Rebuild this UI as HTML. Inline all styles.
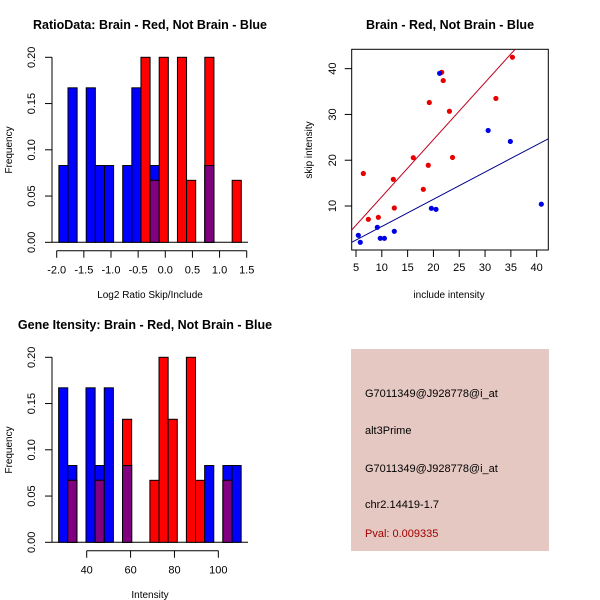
<!DOCTYPE html>
<html><head><meta charset="utf-8"><style>
body{margin:0;background:#fff}
svg{display:block;font-family:"Liberation Sans",Arial,sans-serif}
</style></head><body>
<svg id="c" width="600" height="600" viewBox="0 0 600 600" xmlns="http://www.w3.org/2000/svg">
<rect width="600" height="600" fill="#fff"/>
<text x="150" y="29" text-anchor="middle" font-size="12.5" font-weight="bold">RatioData: Brain - Red, Not Brain - Blue</text>
<text x="450" y="29" text-anchor="middle" font-size="12.5" font-weight="bold">Brain - Red, Not Brain - Blue</text>
<text x="145" y="329" text-anchor="middle" font-size="12.5" font-weight="bold">Gene Itensity: Brain - Red, Not Brain - Blue</text>
<g id="p1"></g>
<g id="p2"></g>
<g id="p3"></g>
<g>
<rect x="351" y="349" width="198" height="202" fill="#e6c8c2"/>
<g font-size="11">
<text x="365" y="397">G7011349@J928778@i_at</text>
<text x="365" y="434">alt3Prime</text>
<text x="365" y="472">G7011349@J928778@i_at</text>
<text x="365" y="508">chr2.14419-1.7</text>
<text x="365" y="537" fill="#a00000">Pval: 0.009335</text>
</g></g>
</svg>
<script>
// Histogram 1: ratio data (20 bins)
const ratioBinStart = -1.96;
const ratioBinWidth = 0.168;
const ratioBlue = [0.083,0.167,0,0.167,0.083,0.083,0,0.083,0.167,0,0.083,0,0,0,0,0,0.083,0,0,0];
const ratioRed  = [0,0,0,0,0,0,0,0,0,0.2,0.067,0.2,0,0.2,0.067,0,0.2,0,0,0.067];
const ratioXTicks = [-2.0,-1.5,-1.0,-0.5,0.0,0.5,1.0,1.5];
const freqTicks = [0,0.05,0.10,0.15,0.20];
const freqTickLabels = ["0.00","0.05","0.10","0.15","0.20"];
// Histogram 2: intensity (20 bins)
const intBinStart = 27.2;
const intBinWidth = 4.16;
const intBlue = [0.167,0.083,0,0.167,0.083,0.167,0,0.083,0,0,0,0,0,0,0,0,0.083,0,0.083,0.083];
const intRed  = [0,0.067,0,0,0.067,0,0,0.133,0,0,0.067,0.2,0.133,0,0.2,0.067,0,0,0.067,0];
const intXTicks = [40,60,80,100];
// Scatter
const redX = [6.42,7.39,9.33,12.23,12.42,16.1,18.04,19.0,19.2,21.6,21.9,23.1,23.7,32.1,35.3];
const redY = [17.1,7.09,7.53,15.83,9.56,20.55,13.64,18.9,32.6,39.2,37.4,30.7,20.6,33.5,42.5];
const blueX = [5.45,5.83,9.13,9.7,10.5,12.42,19.6,20.5,21.2,30.6,34.9,40.9];
const blueY = [3.6,2.07,5.35,2.94,2.94,4.47,9.5,9.27,38.98,26.5,24.1,10.4];
const redFit = [-0.44,1.247];
const blueFit = [-0.41,0.594];
const scatterXTicks = [5,10,15,20,25,30,35,40];
const scatterYTicks = [10,20,30,40];

const NS="http://www.w3.org/2000/svg";
function mk(parent,tag,attrs){const e=document.createElementNS(NS,tag);for(const k in attrs)e.setAttribute(k,attrs[k]);parent.appendChild(e);return e;}
function txt(parent,x,y,s,attrs){const e=mk(parent,'text',Object.assign({x:x,y:y,'font-size':11,'text-anchor':'middle'},attrs||{}));e.textContent=s;return e;}

function hist(g,oy,binStart,binW,blue,red,xTicks,xLabels,xScale,xlabel,axisLo,axisHi){
  const y=v=>oy+242.3-v/0.2*185;
  const ya=mk(g,'line',{x1:52,x2:52,y1:y(0),y2:y(0.2),stroke:'#000'});
  
  
  freqTicks.forEach((t,i)=>{
    mk(g,'line',{x1:45,x2:52,y1:y(t),y2:y(t),stroke:'#000'});
    const l=txt(g,31,y(t)+4,freqTickLabels[i],{transform:`rotate(-90 31 ${y(t)})`});
    
    
  });
  const yt=txt(g,12,oy+150,'Frequency',{transform:`rotate(-90 12 ${oy+150})`,'font-size':10});
  
  
  mk(g,'line',{x1:52,x2:248,y1:y(0),y2:y(0),stroke:'#000'});
  for(let i=0;i<blue.length;i++){
    const x0=xScale(binStart+i*binW),x1=xScale(binStart+(i+1)*binW);
    const b=blue[i],r=red[i],m=Math.min(b,r);
    if(b>0){const e=mk(g,'rect',{x:x0,y:y(b),width:x1-x0,height:y(0)-y(b),fill:'#0000ff',stroke:'#000'});
      
      }
    if(r>0){const e=mk(g,'rect',{x:x0,y:y(r),width:x1-x0,height:y(0)-y(r),fill:'#ff0000',stroke:'#000'});
      
      }
    if(m>0){const e=mk(g,'rect',{x:x0,y:y(m),width:x1-x0,height:y(0)-y(m),fill:'#800080',stroke:'#000'});
      
      }
  }
  const ay=oy+250.7;
  mk(g,'line',{x1:xScale(axisLo),x2:xScale(axisHi),y1:ay,y2:ay,stroke:'#000'});
  xTicks.forEach((t,i)=>{
    mk(g,'line',{x1:xScale(t),x2:xScale(t),y1:ay,y2:ay+7,stroke:'#000'});
    const l=txt(g,xScale(t),ay+23,xLabels[i]);
    
    
  });
  const xt=txt(g,150,oy+298,xlabel,{'font-size':10});
  
  
}
const sx1=v=>56.7+(v+2)*54.29;
hist(document.getElementById('p1'),0,ratioBinStart,ratioBinWidth,ratioBlue,ratioRed,ratioXTicks,ratioXTicks.map(v=>v.toFixed(1)),sx1,'Log2 Ratio Skip/Include',-2,1.5);
const sx3=v=>86.7+(v-40)*2.194;
hist(document.getElementById('p3'),300,intBinStart,intBinWidth,intBlue,intRed,intXTicks,intXTicks.map(String),sx3,'Intensity',40,100);

(function(){
  const g=document.getElementById('p2');
  const X=v=>356+(v-5)*5.162, Y=v=>206-(v-10)*4.578;
  const L=351.7,R=548.3,T=49.3,B=250;
  const box=mk(g,'rect',{x:L,y:T,width:R-L,height:B-T,fill:'none',stroke:'#000'});
  
  
  scatterXTicks.forEach(t=>{
    mk(g,'line',{x1:X(t),x2:X(t),y1:B,y2:B+7,stroke:'#000'});
    const l=txt(g,X(t),B+21,String(t));
    
    
  });
  scatterYTicks.forEach(t=>{
    mk(g,'line',{x1:L-7,x2:L,y1:Y(t),y2:Y(t),stroke:'#000'});
    const l=txt(g,332,Y(t)+4,String(t),{transform:`rotate(-90 332 ${Y(t)})`});
    
    
  });
  const xt=txt(g,449,298,'include intensity',{'font-size':10});
  
  
  const yt=txt(g,312,150,'skip intensity',{transform:'rotate(-90 312 150)','font-size':10});
  
  
  const cp=mk(g,'clipPath',{id:'clip2'});
  mk(cp,'rect',{x:L,y:T,width:R-L,height:B-T});
  function fit(f,col,name){
    const x0=(L-356)/5.162+5,x1=(R-356)/5.162+5;
    const e=mk(g,'line',{x1:X(x0),y1:Y(f[0]+f[1]*x0),x2:X(x1),y2:Y(f[0]+f[1]*x1),stroke:col,'clip-path':'url(#clip2)'});
    
    
  }
  fit(redFit,'#c00020','red-fit-line');
  fit(blueFit,'#00008b','blue-fit-line');
  redX.forEach((v,i)=>{const e=mk(g,'circle',{cx:X(v),cy:Y(redY[i]),r:2.6,fill:'#e60000'});
    
    });
  blueX.forEach((v,i)=>{const e=mk(g,'circle',{cx:X(v),cy:Y(blueY[i]),r:2.6,fill:'#0000e6'});
    
    });
})();
</script>
</body></html>
